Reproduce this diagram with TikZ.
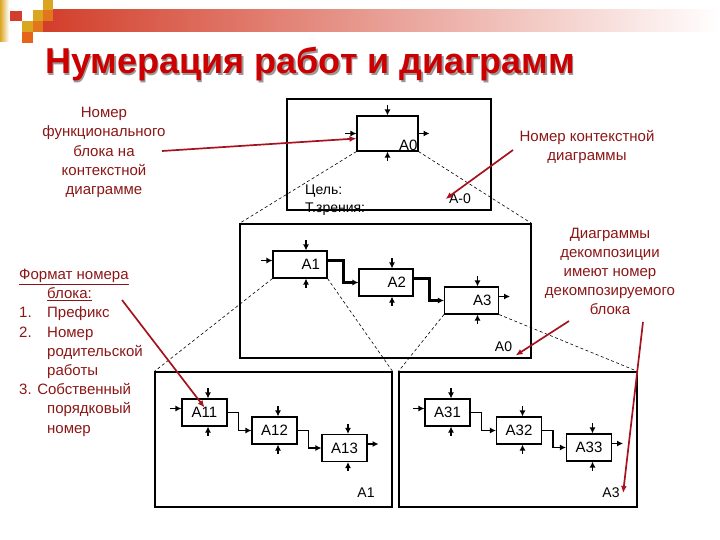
\documentclass[tikz,border=0pt]{standalone}
\usepackage{fontspec}
\setmainfont{Liberation Sans}
\usetikzlibrary{arrows.meta}
\definecolor{titleRed}{RGB}{204,0,0}
\definecolor{noteRed}{RGB}{140,22,22}
\definecolor{lineRed}{RGB}{165,20,30}
\definecolor{hdrRed}{RGB}{210,62,42}
\definecolor{hdrGold}{RGB}{218,165,32}
\definecolor{hdrOrange}{RGB}{226,118,28}

\begin{document}
\begin{tikzpicture}[x=1pt,y=-1pt,
  frame/.style={draw,line width=1.2pt,inner sep=0pt},
  blk/.style={draw,line width=1.1pt,inner sep=0pt,font=\fontsize{15}{17}\selectfont},
  mblk/.style={blk,minimum width=54pt,minimum height=27pt,text width=40pt,inner xsep=7pt,align=right},
  lblk/.style={blk,minimum width=45pt,minimum height=27pt},
  tip/.style={-{Latex[length=6pt,width=6pt]},line width=1.2pt},
  flow/.style={-{Latex[length=6pt,width=6pt]},line width=2.2pt},
  lflow/.style={-{Latex[length=6pt,width=6pt]},line width=1.5pt},
  cut/.style={dash pattern=on 3pt off 2.5pt,line width=0.6pt},
  note/.style={draw=lineRed,line width=1.7pt,-{Latex[length=7pt,width=6pt]}},
  notetext/.style={text=noteRed,font=\fontsize{15}{19.2}\selectfont},
  dtext/.style={font=\fontsize{14}{18}\selectfont}]
  \useasboundingbox (0,0) rectangle (720,540);

  \shade[left color=hdrRed,right color=white] (43,10) rectangle (720,32);
  \shade[left color=hdrGold,right color=white] (0,0) rectangle (9,42);
  \fill[hdrRed] (10,11) rectangle (22,21);
  \fill[hdrGold] (43,0) rectangle (53,10);
  \fill[hdrGold] (33,10) rectangle (43,21);
  \fill[hdrOrange] (43,10) rectangle (53,21);
  \fill[hdrGold] (22,21) rectangle (33,32);
  \fill[hdrOrange] (33,21) rectangle (43,32);
  \fill[hdrOrange!85!red] (22,32) rectangle (33,43);

  \node[anchor=base west,inner sep=0pt,text=black!40,font=\fontsize{36}{40}\bfseries] (titleshadow) at (46.5,75.5) {Нумерация работ и диаграмм};
  \node[anchor=base west,inner sep=0pt,text=titleRed,font=\fontsize{36}{40}\bfseries] (title) at (45,74) {Нумерация работ и диаграмм};

  \node[frame,minimum width=204pt,minimum height=111pt] (fr0) at (389,154.5) {};
  \node[frame,minimum width=291pt,minimum height=134pt] (fr1) at (385.5,291) {};
  \node[frame,minimum width=237pt,minimum height=135pt] (fr2) at (273.5,439.5) {};
  \node[frame,minimum width=238pt,minimum height=135pt] (fr3) at (518,439.5) {};

  \node[blk,minimum width=61pt,minimum height=35pt,
    label={[anchor=south east,inner sep=1pt,font=\fontsize{15}{17}\selectfont]south east:A0}] (a0) at (387.5,133.5) {};
  \node[mblk] (a1) at (300,264.5) {A1};
  \node[mblk] (a2) at (386,282.5) {A2};
  \node[mblk,minimum width=53pt] (a3) at (471.5,300.5) {A3};
  \node[lblk] (a11) at (204.5,412.5) {A11};
  \node[lblk] (a12) at (274.5,430.5) {A12};
  \node[lblk] (a13) at (344.5,448) {A13};
  \node[lblk] (a31) at (447.5,412.5) {A31};
  \node[lblk] (a32) at (519,430.5) {A32};
  \node[lblk] (a33) at (589,447.5) {A33};

  \foreach \b/\s in {a0/0,a1/6,a2/6,a3/6,a11/3.5,a12/3.5,a13/3.5,a31/3.5,a32/3.5,a33/3.5}{
    \draw[tip] ([xshift=\s pt,yshift=10pt]\b.north) -- ([xshift=\s pt]\b.north);
    \draw[tip] ([xshift=\s pt,yshift=-9pt]\b.south) -- ([xshift=\s pt]\b.south);
  }
  \foreach \b/\s in {a0/0,a1/4,a11/4,a31/4}
    \draw[tip] ([xshift=-11pt,yshift=\s pt]\b.west) -- ([yshift=\s pt]\b.west);
  \foreach \b/\s in {a0/0,a3/4,a13/4,a33/4}
    \draw[tip] ([yshift=\s pt]\b.east) -- ([xshift=11pt,yshift=\s pt]\b.east);

  \draw[flow] ([yshift=4pt]a1.east) -- ++(16,0) |- (a2.west);
  \draw[flow] ([yshift=4pt]a2.east) -- ++(16,0) |- (a3.west);
  \draw[lflow] (a11.east) -- ++(11,0) |- (a12.west);
  \draw[lflow] (a12.east) -- ++(11,0) |- (a13.west);
  \draw[lflow] (a31.east) -- ++(11,0) |- (a32.west);
  \draw[lflow] (a32.east) -- ++(11,0) |- (a33.west);

  \draw[cut] (a0.south west) -- (fr1.north west);
  \draw[cut] (a0.south east) -- (fr1.north east);
  \draw[cut] (a1.south west) -- (fr2.north west);
  \draw[cut] (a1.south east) -- (fr2.north east);
  \draw[cut] (a3.south west) -- (fr3.north west);
  \draw[cut] (a3.south east) -- (fr3.north east);

  \node[dtext,anchor=north west,align=left,inner sep=0pt] (view) at (305,185) {Цель:\\Т.зрения:};
  \node[dtext] (ctxnum) at (460,199) {A-0};
  \node[dtext] (num1) at (503.5,347) {A0};
  \node[dtext] (num2) at (366,493) {A1};
  \node[dtext] (num3) at (611,493) {A3};

  \node[notetext,align=center] (note1) at (104,152.5) {Номер\\функционального\\блока на\\контекстной\\диаграмме};
  \node[notetext,align=center] (note2) at (587,147) {Номер контекстной\\диаграммы};
  \node[notetext,align=center] (note3) at (610,271.5) {Диаграммы\\декомпозиции\\имеют номер\\декомпозируемого\\блока};
  \node[notetext,align=left,anchor=north west,inner sep=0pt] (note4) at (19,269) {%
    \underline{Формат номера}\\
    \hspace*{28pt}\underline{блока:}\\
    \makebox[28pt][l]{1.}Префикс\\
    \makebox[28pt][l]{2.}Номер\\
    \hspace*{28pt}родительской\\
    \hspace*{28pt}работы\\
    3. Собственный\\
    \hspace*{28pt}порядковый\\
    \hspace*{28pt}номер};

  \coordinate (n1) at (162,151);
  \coordinate (n2) at (513,150);
  \coordinate (n3) at (569,321);
  \coordinate (n4) at (643,322);
  \coordinate (n5) at (122,300);
  \draw[note] (n1) -- ([yshift=-5pt]a0.west);
  \draw[note] (n2) -- (ctxnum.west);
  \draw[note] (n3) -- (num1.south east);
  \draw[note] (n4) -- (num3.east);
  \draw[note] (n5) -- ([yshift=5pt]a11.center);
\end{tikzpicture}
\end{document}
